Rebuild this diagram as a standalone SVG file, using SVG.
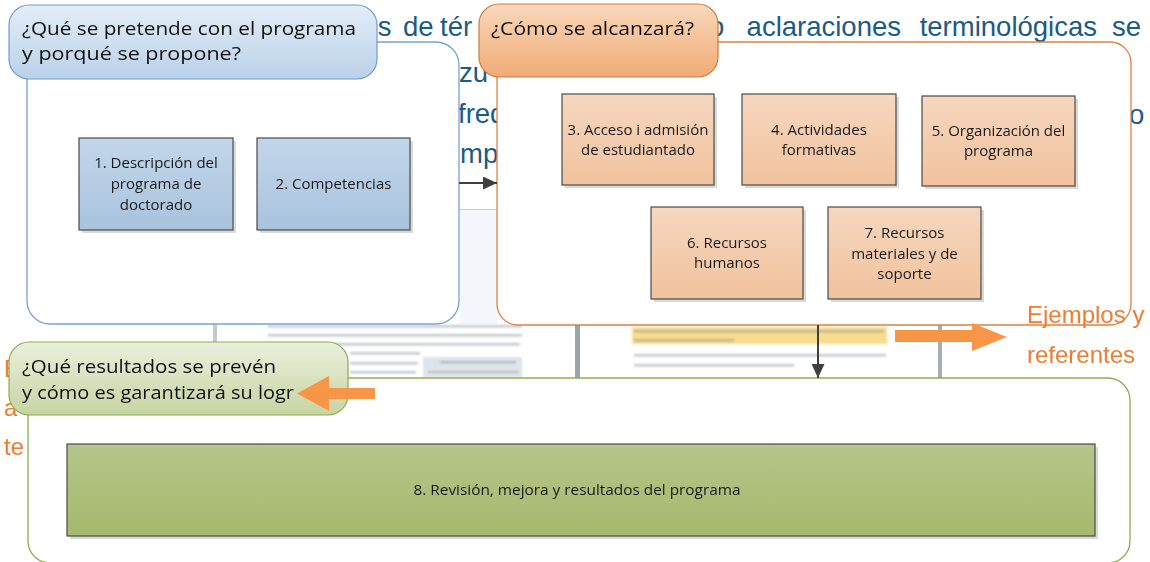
<svg xmlns="http://www.w3.org/2000/svg" width="1150" height="562" viewBox="0 0 1150 562">
<defs>
<linearGradient id="gBlueHead" x1="0" y1="0" x2="0" y2="1"><stop offset="0" stop-color="#e3edf7"/><stop offset="1" stop-color="#bad1e9"/></linearGradient>
<linearGradient id="gBlueBox" x1="0" y1="0" x2="0" y2="1"><stop offset="0" stop-color="#c2d6ea"/><stop offset="1" stop-color="#a9c3dd"/></linearGradient>
<linearGradient id="gOrHead" x1="0" y1="0" x2="0" y2="1"><stop offset="0" stop-color="#fad8bb"/><stop offset="1" stop-color="#f0ab76"/></linearGradient>
<linearGradient id="gOrBox" x1="0" y1="0" x2="0" y2="1"><stop offset="0" stop-color="#f6d7bf"/><stop offset="1" stop-color="#f1c29d"/></linearGradient>
<linearGradient id="gGrHead" x1="0" y1="0" x2="0" y2="1"><stop offset="0" stop-color="#eaf0dd"/><stop offset="1" stop-color="#c6d4a2"/></linearGradient>
<linearGradient id="gGrBox" x1="0" y1="0" x2="0" y2="1"><stop offset="0" stop-color="#b6c58a"/><stop offset="1" stop-color="#a6b96d"/></linearGradient>
<filter id="soft" x="-5%" y="-50%" width="110%" height="200%"><feGaussianBlur stdDeviation="0.9"/></filter>
<marker id="arr" viewBox="0 0 14 13" refX="14" refY="6.5" markerWidth="14" markerHeight="13" markerUnits="userSpaceOnUse" orient="auto">
<path d="M0,0 L14,6.5 L0,13 z" fill="#404040"/>
</marker>
<style>
.hd{font-family:"Open Sans","Noto Sans",sans-serif;font-size:18.8px;fill:#111}
.bx{font-family:"Open Sans","Noto Sans",sans-serif;font-size:15px;fill:#1a1a1a;text-anchor:middle}
.bg{font-family:"Liberation Sans",Arial,sans-serif;font-size:27.5px;fill:#1c5a87}
.or{font-family:"Liberation Sans",Arial,sans-serif;font-size:24px;fill:#ef7d31}
.sh{fill:#d9d9d9}
.box{stroke:#4a4a4a;stroke-width:1.2}
.cont{fill:#ffffff;stroke-width:1.3}
.blur{fill:#7d8590;opacity:0.45}
.conn{stroke:#404040;stroke-width:2;fill:none}
.big{fill:#f79646}
</style>
</defs>

<g id="background">
<text class="bg"><tspan x="377.7" y="36">s</tspan><tspan x="403" y="36">de</tspan><tspan x="440" y="36">tér</tspan></text>
<text class="bg"><tspan x="709" y="36">o</tspan><tspan x="746.6" y="36">aclaraciones</tspan><tspan x="919.7" y="36">terminológicas</tspan><tspan x="1112" y="36">se</tspan></text>
<text class="bg" x="459" y="82">zu</text>
<text class="bg" x="458" y="123">freq</text>
<text class="bg" x="460" y="163">mpl</text>
<text class="bg" x="1129" y="124">o</text>
<rect x="459" y="209" width="38" height="1" fill="#c9cdd3"/>
<rect x="460" y="210" width="37" height="114" fill="#f4f8fc"/>
<text class="or" x="4" y="377">E</text>
<text class="or" x="4" y="416">a</text>
<text class="or" x="4" y="455">te</text>
<rect x="213" y="324" width="4" height="54" fill="#c5cacf"/>
<rect x="575" y="324" width="5" height="54" fill="#9aa5ab"/>
<rect x="938" y="324" width="4" height="54" fill="#a3afb4"/>
<g filter="url(#soft)">
<rect class="blur" x="268" y="325" width="254" height="2.5"/>
<rect class="blur" x="268" y="334" width="254" height="2.5"/>
<rect class="blur" x="268" y="343" width="252" height="2.5"/>
<rect class="blur" x="350" y="352" width="70" height="2.5"/>
<rect class="blur" x="350" y="362" width="68" height="2.5"/>
<rect class="blur" x="350" y="371" width="66" height="2.5"/>
<rect x="423" y="357" width="99" height="21" fill="#dfe4ea"/>
<rect class="blur" x="440" y="361" width="76" height="2.5"/>
<rect class="blur" x="428" y="371" width="90" height="2"/>
<rect x="632" y="327" width="255" height="17" fill="#f7dc8e"/>
<rect class="blur" x="634" y="330" width="250" height="2.5"/>
<rect class="blur" x="634" y="339" width="100" height="2.5"/>
<rect class="blur" x="634" y="354" width="252" height="2.5"/>
<rect class="blur" x="634" y="364" width="160" height="2.5"/>
</g>
</g>

<g id="cont-que">
<rect class="cont" x="27" y="42" width="432" height="282" rx="23" stroke="#7aa2d0"/>
</g>
<g id="cont-como">
<rect class="cont" x="497" y="42" width="634" height="283" rx="21" stroke="#e08040"/>
</g>
<g id="cont-resultados">
<rect class="cont" x="28" y="378" width="1102" height="185" rx="22" stroke="#93ad52"/>
</g>

<g id="note-ejemplos">
<text class="or" x="1027" y="323">Ejemplos y</text>
<text class="or" x="1027" y="363">referentes</text>
</g>

<g id="head-que">
<rect x="9" y="5" width="368" height="74" rx="20" fill="url(#gBlueHead)" stroke="#6f9bcf" stroke-width="1.2"/>
<text class="hd" x="22" y="35" textLength="334" lengthAdjust="spacingAndGlyphs">¿Qué se pretende con el programa</text>
<text class="hd" x="22" y="59.5" textLength="219" lengthAdjust="spacingAndGlyphs">y porqué se propone?</text>
</g>
<g id="head-como">
<rect x="479" y="4" width="239" height="73" rx="20" fill="url(#gOrHead)" stroke="#d07a3a" stroke-width="1.2"/>
<text class="hd" x="491" y="35" textLength="203" lengthAdjust="spacingAndGlyphs">¿Cómo se alcanzará?</text>
</g>
<g id="head-resultados">
<rect x="9" y="342" width="339" height="73" rx="20" fill="url(#gGrHead)" stroke="#8fab4e" stroke-width="1.2"/>
<text class="hd" x="22" y="373" textLength="254" lengthAdjust="spacingAndGlyphs">¿Qué resultados se prevén</text>
<text class="hd" x="22" y="399" textLength="272" lengthAdjust="spacingAndGlyphs">y cómo es garantizará su logr</text>
</g>

<g id="n1">
<rect class="sh" x="82" y="141" width="154" height="92"/>
<rect class="box" x="79" y="138" width="154" height="92" fill="url(#gBlueBox)"/>
<text class="bx" x="156" y="168">1. Descripción del</text>
<text class="bx" x="156" y="189">programa de</text>
<text class="bx" x="156" y="210">doctorado</text>
</g>
<g id="n2">
<rect class="sh" x="260" y="141" width="153" height="92"/>
<rect class="box" x="257" y="138" width="153" height="92" fill="url(#gBlueBox)"/>
<text class="bx" x="333.5" y="189">2. Competencias</text>
</g>
<g id="n3">
<rect class="sh" x="565" y="97" width="152" height="91"/>
<rect class="box" x="562" y="94" width="152" height="91" fill="url(#gOrBox)"/>
<text class="bx" x="638" y="135">3. Acceso i admisión</text>
<text class="bx" x="638" y="155">de estudiantado</text>
</g>
<g id="n4">
<rect class="sh" x="745" y="97" width="154" height="91"/>
<rect class="box" x="742" y="94" width="154" height="91" fill="url(#gOrBox)"/>
<text class="bx" x="819" y="135">4. Actividades</text>
<text class="bx" x="819" y="155">formativas</text>
</g>
<g id="n5">
<rect class="sh" x="925" y="99" width="153" height="90"/>
<rect class="box" x="922" y="96" width="153" height="90" fill="url(#gOrBox)"/>
<text class="bx" x="998.5" y="136">5. Organización del</text>
<text class="bx" x="998.5" y="156">programa</text>
</g>
<g id="n6">
<rect class="sh" x="654" y="210" width="152" height="92"/>
<rect class="box" x="651" y="207" width="152" height="92" fill="url(#gOrBox)"/>
<text class="bx" x="727" y="248">6. Recursos</text>
<text class="bx" x="727" y="268">humanos</text>
</g>
<g id="n7">
<rect class="sh" x="831" y="210" width="153" height="92"/>
<rect class="box" x="828" y="207" width="153" height="92" fill="url(#gOrBox)"/>
<text class="bx" x="904.5" y="238">7. Recursos</text>
<text class="bx" x="904.5" y="259">materiales y de</text>
<text class="bx" x="904.5" y="279">soporte</text>
</g>
<g id="n8">
<rect class="sh" x="70" y="447" width="1028" height="92"/>
<rect class="box" x="67" y="444" width="1028" height="92" fill="url(#gGrBox)"/>
<text class="bx" x="577" y="495" textLength="327" lengthAdjust="spacingAndGlyphs">8. Revisión, mejora y resultados del programa</text>
</g>

<g id="connectors">
<line class="conn" x1="459" y1="183" x2="497" y2="183" marker-end="url(#arr)"/>
<line class="conn" x1="818" y1="325" x2="818" y2="378" marker-end="url(#arr)"/>
</g>

<g id="callout-arrows">
<polygon class="big" points="895,330 972,330 972,323 1007,337 972,351 972,342 895,342"/>
<polygon class="big" points="375,388 329,388 329,376 297,393.5 329,411 329,399 375,399"/>
</g>
</svg>
